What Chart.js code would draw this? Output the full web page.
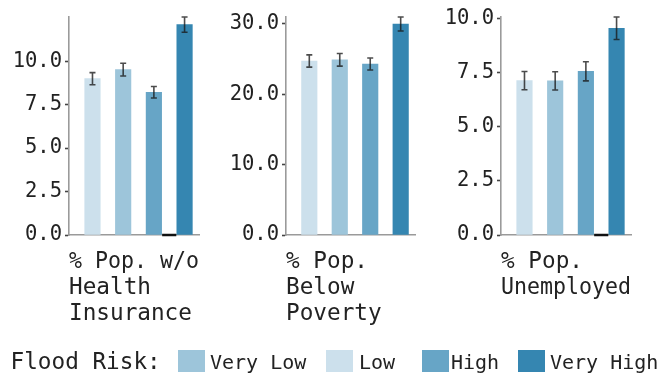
<!DOCTYPE html>
<html>
<head>
<meta charset="utf-8">
<script src="https://cdn.jsdelivr.net/npm/chart.js@4.4.1/dist/chart.umd.min.js"></script>
<style>
  html, body { margin: 0; padding: 0; background: #fff; }
  #wrap { position: relative; width: 667px; height: 375px; overflow: hidden;
          font-family: "DejaVu Sans Mono", monospace; color: #222; }
  #wrap canvas { position: absolute; top: 0; }
  .lg { position: absolute; white-space: nowrap; line-height: 22px; }
  .sw { position: absolute; width: 27px; height: 22px; }
</style>
</head>
<body>
<div id="wrap">
  <canvas id="c0" width="205" height="375" style="left:0px"></canvas>
  <canvas id="c1" width="204" height="375" style="left:217px"></canvas>
  <canvas id="c2" width="205" height="375" style="left:432px"></canvas>
</div>
<script>
// Flood-risk levels as listed in the legend, with their fill colours
const riskLevels = ['Very Low', 'Low', 'High', 'Very High'];
const riskColors = ['#9dc5da', '#cce0ec', '#67a5c6', '#3586b1'];

// Order of the bars inside every panel (left to right)
const barOrder = ['Low', 'Very Low', 'High', 'Very High'];

// Panel titles
const insuranceTitle = ['% Pop. w/o', 'Health', 'Insurance'];
const povertyTitle = ['% Pop.', 'Below', 'Poverty'];
const unemployedTitle = ['% Pop.', 'Unemployed'];

// Means and error half-widths, in barOrder
const insuranceMean = [9.00, 9.52, 8.22, 12.11];
const insuranceErr  = [0.35, 0.37, 0.33, 0.44];
const povertyMean   = [24.73, 24.90, 24.30, 29.98];
const povertyErr    = [0.87, 0.90, 0.85, 1.00];
const unemployedMean = [7.13, 7.12, 7.56, 9.55];
const unemployedErr  = [0.42, 0.42, 0.44, 0.52];

// Y tick values
const insuranceTicks = [0, 2.5, 5, 7.5, 10];
const povertyTicks = [0, 10, 20, 30];
const unemployedTicks = [0, 2.5, 5, 7.5, 10];

// Zero-height marker between the "High" and "Very High" bars (null = none)
const insuranceMarker = 0;
const povertyMarker = null;
const unemployedMarker = 0;

const FONT = '"DejaVu Sans Mono", monospace';

// Error bars with caps, drawn on top of the bars
const errorBarPlugin = {
  id: 'errorBars',
  afterDatasetsDraw(chart, args, opts) {
    const { ctx, scales: { x, y } } = chart;
    ctx.save();
    ctx.strokeStyle = opts.color;
    ctx.lineWidth = 1.6;
    opts.mean.forEach((m, i) => {
      const px = x.getPixelForValue(i);
      const top = y.getPixelForValue(m + opts.err[i]);
      const bot = y.getPixelForValue(m - opts.err[i]);
      ctx.beginPath();
      ctx.moveTo(px, top); ctx.lineTo(px, bot);
      ctx.moveTo(px - 3, top); ctx.lineTo(px + 3, top);
      ctx.moveTo(px - 3, bot); ctx.lineTo(px + 3, bot);
      ctx.stroke();
    });
    ctx.restore();
  }
};

function makePanel(id, title, mean, err, ticks, marker) {
  const colors = barOrder.map(k => riskColors[riskLevels.indexOf(k)]);
  const yMax = Math.max(...mean.map((m, i) => m + err[i]));
  const datasets = [{
    type: 'bar',
    data: mean.map((v, i) => ({ x: i, y: v })),
    backgroundColor: colors,
    borderWidth: 0,
    barThickness: 15.5,
    order: 1
  }];
  if (marker !== null) {
    datasets.push({
      type: 'line',
      data: [{ x: 2.27, y: marker }, { x: 2.73, y: marker }],
      borderColor: '#111',
      borderWidth: 2.5,
      pointRadius: 0,
      clip: false,
      order: 0
    });
  }
  return new Chart(document.getElementById(id), {
    type: 'bar',
    data: { datasets },
    plugins: [errorBarPlugin],
    options: {
      responsive: false,
      animation: false,
      devicePixelRatio: 1,
      layout: { padding: { top: 17, right: 6, bottom: 0, left: 0 } },
      plugins: {
        legend: { display: false },
        tooltip: { enabled: false },
        errorBars: { mean, err, color: 'rgba(25,25,25,0.78)' }
      },
      scales: {
        x: {
          type: 'linear',
          offset: false,
          min: -0.765,
          max: 3.47,
          afterFit(s) { s.height = 140; },
          ticks: { display: false },
          grid: { display: false },
          border: { color: '#9a9a9a', width: 1.6 },
          title: {
            display: true,
            text: title,
            align: 'start',
            color: '#222',
            font: { family: FONT, size: 22.7, lineHeight: 1.145 },
            padding: { top: 0, bottom: title.length === 3 ? 48 : 74 }
          }
        },
        y: {
          min: 0,
          max: yMax,
          afterFit(s) { s.width = 69; },
          afterBuildTicks(s) { s.ticks = ticks.map(v => ({ value: v })); },
          ticks: {
            color: '#222',
            padding: 3,
            font: { family: FONT, size: 20.5 },
            callback: v => Number(v).toFixed(1)
          },
          grid: {
            drawOnChartArea: false,
            drawTicks: true,
            tickLength: 4,
            tickColor: '#444',
            tickWidth: 1.6
          },
          border: { color: '#9a9a9a', width: 1.6 }
        }
      }
    }
  });
}

makePanel('c0', insuranceTitle, insuranceMean, insuranceErr, insuranceTicks, insuranceMarker);
makePanel('c1', povertyTitle, povertyMean, povertyErr, povertyTicks, povertyMarker);
makePanel('c2', unemployedTitle, unemployedMean, unemployedErr, unemployedTicks, unemployedMarker);

// Legend row under the panels
const wrap = document.getElementById('wrap');
const head = document.createElement('div');
head.className = 'lg';
head.textContent = 'Flood Risk:';
head.style.cssText = 'left:10.5px;top:350px;font-size:22.7px;';
wrap.appendChild(head);
const swatchLeft = [178, 325.5, 421.5, 518];
const textLeft = [210, 359, 451, 550];
riskLevels.forEach((name, i) => {
  const sw = document.createElement('div');
  sw.className = 'sw';
  sw.style.cssText = `left:${swatchLeft[i]}px;top:350px;background:${riskColors[i]};`;
  wrap.appendChild(sw);
  const t = document.createElement('div');
  t.className = 'lg';
  t.textContent = name;
  t.style.cssText = `left:${textLeft[i]}px;top:351px;font-size:20px;`;
  wrap.appendChild(t);
});
</script>
</body>
</html>
